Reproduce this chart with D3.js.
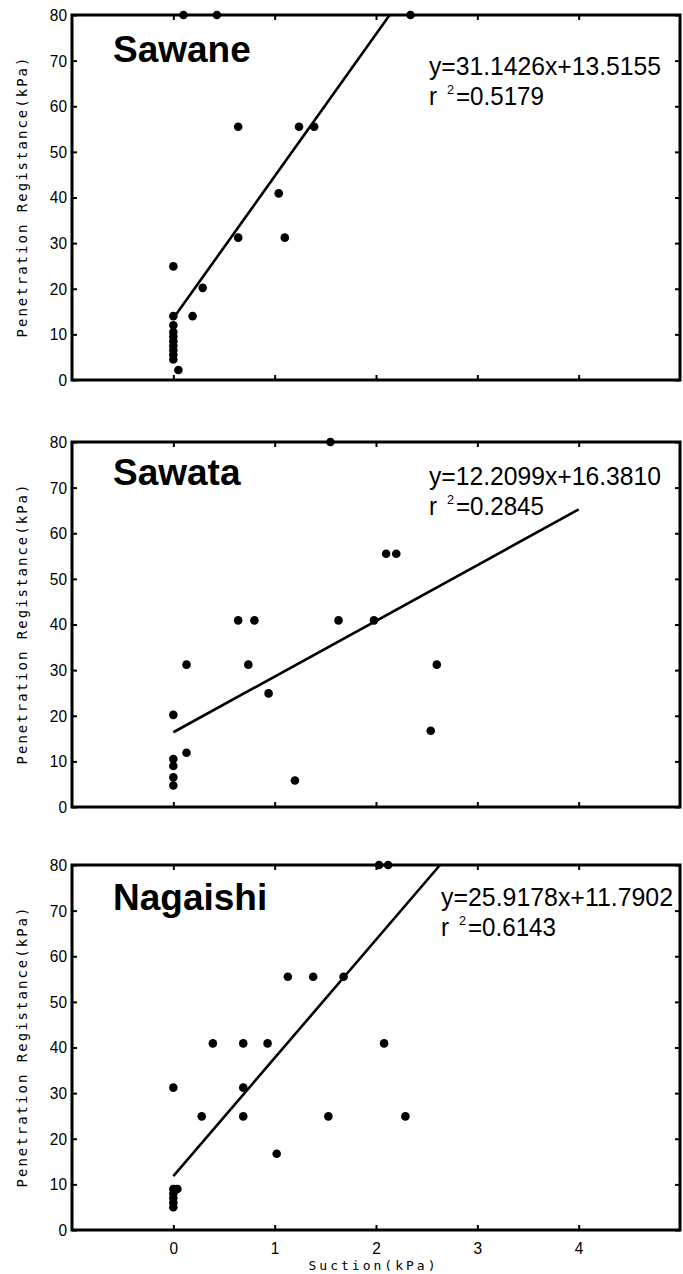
<!DOCTYPE html>
<html>
<head>
<meta charset="utf-8">
<script src="https://cdn.jsdelivr.net/npm/d3@7"></script>
<style>
  html, body { margin: 0; padding: 0; background: #fff; }
  svg { display: block; }
  .tick text { font-family: "Liberation Sans", Arial, sans-serif; font-size: 17px; fill: #000; }
</style>
</head>
<body>
<script>
// Site names
const sites = ["Sawane", "Sawata", "Nagaishi"];

// Suction (kPa) and penetration resistance (kPa) per site
const sawaneSuction    = [0.10, 0.43, 2.34, 0.64, 1.24, 1.39, 1.04, 0.64, 1.10, 0.00, 0.29, 0.19, 0.00,
                          0.00, 0.00, 0.00, 0.00, 0.00, 0.00, 0.00, 0.00, 0.05];
const sawaneResistance = [80, 80, 80, 55.5, 55.5, 55.5, 40.9, 31.2, 31.2, 24.9, 20.2, 14.0, 14.0,
                          12.0, 10.5, 9.5, 8.5, 7.5, 6.5, 5.5, 4.5, 2.2];

const sawataSuction    = [1.55, 2.10, 2.20, 0.64, 0.80, 1.63, 1.98, 0.13, 0.74, 2.60, 0.94, 0.00,
                          2.54, 0.13, 0.00, 0.00, 0.00, 0.00, 1.20];
const sawataResistance = [80, 55.5, 55.5, 40.9, 40.9, 40.9, 40.9, 31.2, 31.2, 31.2, 24.9, 20.2,
                          16.7, 11.9, 10.5, 9.0, 6.5, 4.7, 5.8];

const nagaishiSuction    = [2.03, 2.12, 1.13, 1.38, 1.68, 0.39, 0.69, 0.93, 2.08, 0.00, 0.69, 0.28,
                            0.69, 1.53, 2.29, 1.02, 0.00, 0.04, 0.00, 0.00, 0.00, 0.00];
const nagaishiResistance = [80, 80, 55.5, 55.5, 55.5, 40.9, 40.9, 40.9, 40.9, 31.2, 31.2, 24.9,
                            24.9, 24.9, 24.9, 16.7, 9.0, 9.0, 8.0, 7.0, 6.0, 5.0];

// Fitted regression lines
const slopes     = [31.1426, 12.2099, 25.9178];
const intercepts = [13.5155, 16.3810, 11.7902];
const slopeText     = ["31.1426", "12.2099", "25.9178"];
const interceptText = ["13.5155", "16.3810", "11.7902"];
const r2Text        = ["0.5179", "0.2845", "0.6143"];
const fitRange = [0, 4];

// Axis ticks
const xTicks = [0, 1, 2, 3, 4];
const yTicks = [0, 10, 20, 30, 40, 50, 60, 70, 80];
const xTitle = "Suction(kPa)";
const yTitle = "Penetration Registance(kPa)";

const suctions = [sawaneSuction, sawataSuction, nagaishiSuction];
const resistances = [sawaneResistance, sawataResistance, nagaishiResistance];

// ---- layout ----
const W = 683, H = 1274;
const left = 72, right = 680, panelH = 365;
const panelTops = [15, 442, 865];
const titleDy = [47, 43, 45];
const eqX = [429, 429, 441];
const eqDy = [60, 43, 41];
const sansFont = "'Liberation Sans', Arial, sans-serif";
const monoFont = "'DejaVu Sans Mono', monospace";

const svg = d3.select("body").append("svg").attr("width", W).attr("height", H);

const x = d3.scaleLinear().domain([-1, 5]).range([left, right]);

// squeeze tick labels into a narrow, tall look
function condense(sel) {
  sel.selectAll(".tick text")
    .attr("textLength", d => String(d).length * 8.6)
    .attr("lengthAdjust", "spacingAndGlyphs");
}

sites.forEach((name, i) => {
  const top = panelTops[i], bottom = top + panelH;
  const y = d3.scaleLinear().domain([0, 80]).range([bottom, top]);
  const g = svg.append("g");

  // tick marks on all four sides, pointing inward
  const axL = g.append("g").attr("transform", `translate(${left},0)`)
    .call(d3.axisLeft(y).tickValues(yTicks).tickSize(-5).tickPadding(5).tickFormat(d3.format("d")));
  const axR = g.append("g").attr("transform", `translate(${right},0)`)
    .call(d3.axisRight(y).tickValues(yTicks).tickSize(-5).tickFormat(""));
  const axT = g.append("g").attr("transform", `translate(0,${top})`)
    .call(d3.axisTop(x).tickValues(xTicks).tickSize(-5).tickFormat(""));
  const axB = g.append("g").attr("transform", `translate(0,${bottom})`)
    .call(d3.axisBottom(x).tickValues(xTicks).tickSize(-5).tickPadding(12)
      .tickFormat(i === sites.length - 1 ? d3.format("d") : ""));
  [axL, axR, axT, axB].forEach(a => {
    a.select(".domain").remove();
    a.selectAll(".tick line").attr("stroke", "#000").attr("stroke-width", 2);
  });
  condense(axL);
  if (i === sites.length - 1) condense(axB);

  // frame
  g.append("rect")
    .attr("x", left).attr("y", top)
    .attr("width", right - left).attr("height", panelH)
    .attr("fill", "none").attr("stroke", "#000").attr("stroke-width", 3);

  // regression line, clipped at the top of the plot
  const xEnd = Math.min(fitRange[1], (80 - intercepts[i]) / slopes[i]);
  const fit = d3.line().x(d => x(d)).y(d => y(slopes[i] * d + intercepts[i]));
  g.append("path")
    .attr("d", fit([fitRange[0], xEnd]))
    .attr("fill", "none").attr("stroke", "#000").attr("stroke-width", 2.6);

  // observations
  const pts = suctions[i].map((s, k) => [s, resistances[i][k]]);
  g.selectAll("circle.obs").data(pts).join("circle")
    .attr("class", "obs")
    .attr("cx", d => x(d[0])).attr("cy", d => y(d[1]))
    .attr("r", 4.3).attr("fill", "#000");

  // site name
  g.append("text")
    .attr("x", 113).attr("y", top + titleDy[i])
    .attr("font-family", sansFont)
    .attr("font-weight", "bold").attr("font-size", 37)
    .text(name);

  // regression equation
  const ex = eqX[i], ey = top + eqDy[i];
  g.append("text")
    .attr("x", ex).attr("y", ey)
    .attr("font-family", sansFont).attr("font-size", 26)
    .attr("textLength", 232).attr("lengthAdjust", "spacingAndGlyphs")
    .text(`y=${slopeText[i]}x+${interceptText[i]}`);

  // coefficient of determination: r, superscript 2, value
  const ry = ey + 30;
  g.append("text")
    .attr("x", ex).attr("y", ry)
    .attr("font-family", sansFont).attr("font-size", 26)
    .attr("textLength", 8).attr("lengthAdjust", "spacingAndGlyphs")
    .text("r");
  g.append("text")
    .attr("x", ex + 18).attr("y", ry - 11)
    .attr("font-family", sansFont).attr("font-size", 13)
    .attr("textLength", 7).attr("lengthAdjust", "spacingAndGlyphs")
    .text("2");
  g.append("text")
    .attr("x", ex + 27).attr("y", ry)
    .attr("font-family", sansFont).attr("font-size", 26)
    .attr("textLength", 88).attr("lengthAdjust", "spacingAndGlyphs")
    .text(`=${r2Text[i]}`);

  // y axis title
  g.append("text")
    .attr("transform", `translate(27,${top + panelH / 2}) rotate(-90)`)
    .attr("text-anchor", "middle")
    .attr("font-family", monoFont)
    .attr("font-size", 14)
    .attr("textLength", 280).attr("lengthAdjust", "spacing")
    .text(yTitle);
});

// x axis title under the last panel
svg.append("text")
  .attr("x", 372).attr("y", 1270)
  .attr("text-anchor", "middle")
  .attr("font-family", monoFont)
  .attr("font-size", 13)
  .attr("textLength", 127).attr("lengthAdjust", "spacing")
  .text(xTitle);
</script>
</body>
</html>
